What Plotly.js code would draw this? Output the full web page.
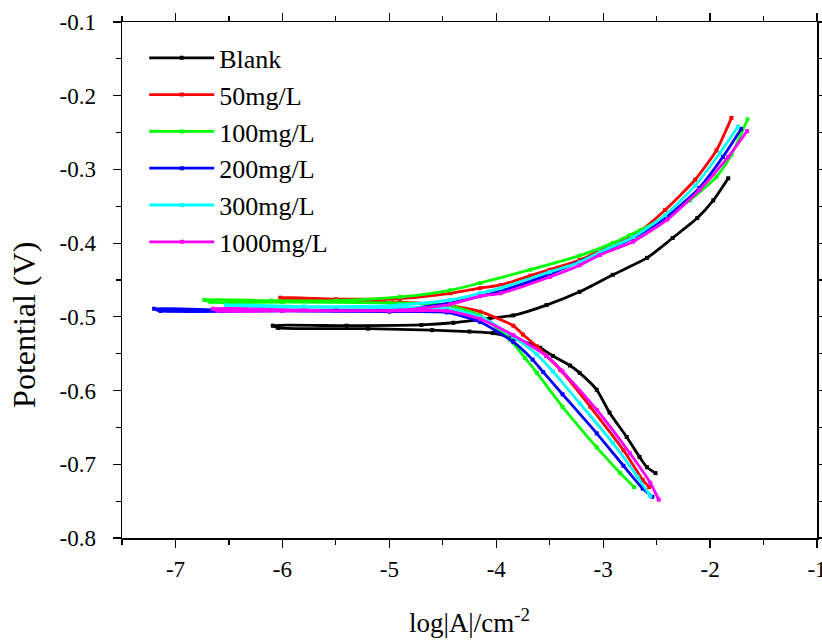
<!DOCTYPE html>
<html>
<head>
<meta charset="utf-8">
<script src="https://cdn.plot.ly/plotly-3.0.1.min.js"></script>
<style>html,body{margin:0;padding:0;background:#fff;}#chart{width:822px;height:643px;}</style>
</head>
<body>
<div id="chart"></div>
<script>
// Series names and colours
const seriesNames = ["Blank", "50mg/L", "100mg/L", "200mg/L", "300mg/L", "1000mg/L"];
const seriesColors = ["#000000", "#ff0000", "#00ff00", "#0000ff", "#00ffff", "#ff00ff"];

// log|i| (x) and potential E (y), along the sweep
const blankX = [-2.51,-2.59,-2.66,-2.78,-2.94,-3.06,-3.22,-3.31,-3.47,-3.59,-3.84,-4.03,-4.25,-4.60,-5.20,-6.04,-6.09,-5.40,-4.70,-4.40,-4.06,-3.84,-3.53,-3.22,-2.91,-2.59,-2.35,-2.12,-1.97,-1.83];
const blankE = [-0.712,-0.704,-0.690,-0.663,-0.630,-0.599,-0.576,-0.566,-0.553,-0.542,-0.529,-0.522,-0.520,-0.518,-0.516,-0.515,-0.512,-0.512,-0.511,-0.508,-0.502,-0.498,-0.484,-0.466,-0.443,-0.420,-0.393,-0.366,-0.342,-0.312];

const c50X = [-2.57,-2.63,-2.81,-3.12,-3.40,-3.53,-3.62,-3.75,-3.84,-4.15,-4.46,-4.90,-5.50,-5.97,-6.02,-5.50,-4.90,-4.43,-4.15,-3.96,-3.68,-3.50,-3.22,-2.91,-2.65,-2.42,-2.14,-1.94,-1.80];
const c50E = [-0.731,-0.721,-0.681,-0.622,-0.572,-0.553,-0.540,-0.524,-0.512,-0.493,-0.484,-0.480,-0.478,-0.477,-0.474,-0.476,-0.475,-0.468,-0.461,-0.457,-0.444,-0.436,-0.423,-0.402,-0.383,-0.355,-0.314,-0.274,-0.230];

const c100X = [-2.71,-2.84,-3.06,-3.38,-3.62,-3.73,-3.87,-4.15,-4.46,-5.00,-6.00,-6.67,-6.73,-6.10,-5.50,-4.90,-4.43,-4.15,-3.68,-3.22,-2.91,-2.75,-2.47,-2.19,-1.94,-1.80,-1.65];
const c100E = [-0.731,-0.712,-0.677,-0.622,-0.576,-0.556,-0.531,-0.498,-0.484,-0.481,-0.480,-0.480,-0.477,-0.478,-0.478,-0.473,-0.464,-0.454,-0.436,-0.417,-0.400,-0.389,-0.369,-0.342,-0.310,-0.280,-0.232];

const c200X = [-2.54,-2.63,-2.81,-3.06,-3.38,-3.56,-3.66,-3.84,-4.15,-4.46,-5.00,-6.00,-7.14,-7.20,-6.50,-5.50,-4.90,-4.43,-3.96,-3.50,-3.03,-2.72,-2.42,-2.10,-1.88,-1.71];
const c200E = [-0.744,-0.733,-0.702,-0.658,-0.605,-0.575,-0.558,-0.534,-0.507,-0.494,-0.493,-0.492,-0.492,-0.489,-0.491,-0.491,-0.490,-0.481,-0.465,-0.442,-0.413,-0.393,-0.366,-0.325,-0.283,-0.245];

const c300X = [-2.56,-2.68,-2.91,-3.22,-3.47,-3.62,-3.84,-4.15,-4.46,-5.00,-6.00,-6.47,-6.53,-5.80,-4.90,-4.43,-4.15,-3.96,-3.50,-3.22,-3.03,-2.72,-2.42,-2.14,-1.91,-1.74];
const c300E = [-0.743,-0.717,-0.671,-0.617,-0.574,-0.551,-0.527,-0.500,-0.489,-0.487,-0.487,-0.487,-0.484,-0.486,-0.484,-0.477,-0.468,-0.461,-0.439,-0.426,-0.412,-0.392,-0.362,-0.322,-0.278,-0.242];

const c1000X = [-2.48,-2.56,-2.75,-3.06,-3.38,-3.53,-3.84,-4.15,-4.46,-5.00,-6.00,-6.60,-6.65,-5.80,-4.90,-4.43,-4.15,-3.96,-3.50,-3.22,-3.03,-2.72,-2.40,-2.10,-1.83,-1.655];
const c1000E = [-0.748,-0.725,-0.685,-0.626,-0.574,-0.553,-0.525,-0.503,-0.492,-0.492,-0.492,-0.492,-0.489,-0.491,-0.491,-0.483,-0.472,-0.468,-0.446,-0.430,-0.416,-0.398,-0.368,-0.328,-0.283,-0.248];

const xTickVals = [-7, -6, -5, -4, -3, -2, -1];
const xTickText = ["-7", "-6", "-5", "-4", "-3", "-2", "-1"];
const yTickVals = [-0.8, -0.7, -0.6, -0.5, -0.4, -0.3, -0.2, -0.1];
const yTickText = ["-0.8", "-0.7", "-0.6", "-0.5", "-0.4", "-0.3", "-0.2", "-0.1"];

const xTitle = "log|A|/cm<sup>-2</sup>";
const yTitle = "Potential (V)";

const xs = [blankX, c50X, c100X, c200X, c300X, c1000X];
const ys = [blankE, c50E, c100E, c200E, c300E, c1000E];

const FONT = "Liberation Serif";

const traces = seriesNames.map((n, i) => ({
  type: "scatter",
  mode: "lines+markers",
  name: n,
  x: xs[i],
  y: ys[i],
  line: {color: seriesColors[i], width: 2.8, shape: "spline", smoothing: 0.6},
  marker: {color: seriesColors[i], size: 4, symbol: "square"}
}));

const axisCommon = {
  showline: true, linecolor: "#000", linewidth: 1.5,
  mirror: "ticks", ticks: "outside", ticklen: 8, tickwidth: 1.2, tickcolor: "#000",
  showgrid: false, zeroline: false,
  ticklabeloverflow: "allow",
  tickfont: {family: FONT, size: 23, color: "#000"}
};

const layout = {
  width: 822, height: 643,
  margin: {l: 122, r: 5, t: 22, b: 105},
  paper_bgcolor: "#fff", plot_bgcolor: "#fff",
  font: {family: FONT, color: "#000"},
  showlegend: true,
  legend: {
    x: 0.032, y: 0.976, xanchor: "left", yanchor: "top",
    bgcolor: "rgba(0,0,0,0)", borderwidth: 0,
    font: {family: FONT, size: 26, color: "#000"},
    itemwidth: 65
  },
  xaxis: Object.assign({}, axisCommon, {
    range: [-7.5, -1],
    tickmode: "array", tickvals: xTickVals, ticktext: xTickText,
    ticklabelstandoff: 2,
    minor: {dtick: 0.5, ticks: "outside", ticklen: 5, tickcolor: "#000", tickwidth: 1.2},
    title: {text: xTitle, font: {family: FONT, size: 27, color: "#000"}, standoff: 32}
  }),
  yaxis: Object.assign({}, axisCommon, {
    range: [-0.8, -0.1],
    tickmode: "array", tickvals: yTickVals, ticktext: yTickText,
    ticklabelstandoff: 12,
    minor: {dtick: 0.05, ticks: "outside", ticklen: 5, tickcolor: "#000", tickwidth: 1.2}
  }),
  annotations: [{
    text: yTitle, textangle: -90, showarrow: false,
    xref: "paper", yref: "paper", x: -0.141, y: 0.413,
    xanchor: "center", yanchor: "middle",
    font: {family: FONT, size: 32, color: "#000"}
  }]
};

Plotly.newPlot("chart", traces, layout, {displayModeBar: false, staticPlot: true});
</script>
</body>
</html>
